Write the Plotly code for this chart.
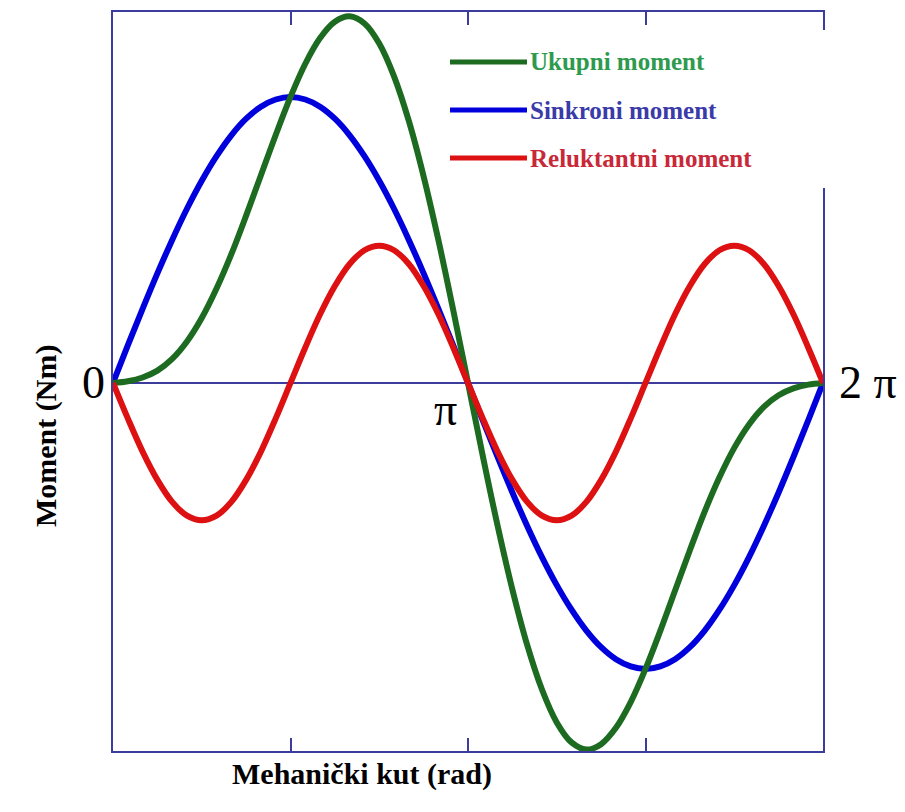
import math
import plotly.graph_objects as go

# mehanički kut, koraci od pi/24
kut = [k * math.pi / 24 for k in range(49)]

# vrijednosti ocitane sa slike (relativno, sinkroni max = 1)
ukupni = [0, 0.006, 0.019, 0.043, 0.084, 0.145, 0.227, 0.330, 0.450, 0.585, 0.726, 0.867, 1.0,
          1.116, 1.206, 1.263, 1.282, 1.257, 1.187, 1.072, 0.916, 0.722, 0.499, 0.255, 0,
          -0.255, -0.499, -0.722, -0.916, -1.072, -1.187, -1.257, -1.282, -1.263, -1.206, -1.116,
          -1.0, -0.867, -0.726, -0.585, -0.450, -0.330, -0.227, -0.145, -0.084, -0.043, -0.019,
          -0.006, 0]
sinkroni = [0, 0.131, 0.259, 0.383, 0.500, 0.609, 0.707, 0.793, 0.866, 0.924, 0.966, 0.991, 1.0,
            0.991, 0.966, 0.924, 0.866, 0.793, 0.707, 0.609, 0.500, 0.383, 0.259, 0.131, 0,
            -0.131, -0.259, -0.383, -0.500, -0.609, -0.707, -0.793, -0.866, -0.924, -0.966, -0.991,
            -1.0, -0.991, -0.966, -0.924, -0.866, -0.793, -0.707, -0.609, -0.500, -0.383, -0.259,
            -0.131, 0]
reluktantni = [0, -0.124, -0.240, -0.339, -0.416, -0.464, -0.480, -0.464, -0.416, -0.339, -0.240,
               -0.124, 0, 0.124, 0.240, 0.339, 0.416, 0.464, 0.480, 0.464, 0.416, 0.339, 0.240,
               0.124, 0, -0.124, -0.240, -0.339, -0.416, -0.464, -0.480, -0.464, -0.416, -0.339,
               -0.240, -0.124, 0, 0.124, 0.240, 0.339, 0.416, 0.464, 0.480, 0.464, 0.416, 0.339,
               0.240, 0.124, 0]

nazivi = ['Ukupni moment', 'Sinkroni moment', 'Reluktantni moment']
boje_linija = ['#1c6b20', '#0000dd', '#dd1111']
boje_teksta = ['#2e9a4e', '#3a3aa8', '#c82838']

W, H = 905, 812
L, R, T, B = 113, 82, 12, 61
okvir = '#3c3c9c'


def px(x):
    return (x - L) / (W - L - R)


def py(y):
    return (H - B - y) / (H - T - B)


fig = go.Figure()
fig.add_trace(go.Scatter(x=kut, y=sinkroni, mode='lines', name=nazivi[1],
                         line=dict(color=boje_linija[1], width=6, shape='spline')))
fig.add_trace(go.Scatter(x=kut, y=ukupni, mode='lines', name=nazivi[0],
                         line=dict(color=boje_linija[0], width=6, shape='spline')))
fig.add_trace(go.Scatter(x=kut, y=reluktantni, mode='lines', name=nazivi[2],
                         line=dict(color=boje_linija[2], width=6, shape='spline')))

# legenda rucno (bijela podloga prekriva desni rub okvira)
shapes = [dict(type='rect', xref='paper', yref='paper', layer='above',
               x0=px(440), x1=px(832), y0=py(188), y1=py(30),
               fillcolor='white', line=dict(width=0))]
annotations = []
for i, ime in enumerate(nazivi):
    yy = 62 + i * 48
    shapes.append(dict(type='line', xref='paper', yref='paper', layer='above',
                       x0=px(450), x1=px(527), y0=py(yy), y1=py(yy),
                       line=dict(color=boje_linija[i], width=5)))
    annotations.append(dict(text=ime, xref='paper', yref='paper', x=px(528), y=py(yy),
                            xanchor='left', yanchor='middle', showarrow=False,
                            font=dict(family='Liberation Serif', size=25, color=boje_teksta[i],
                                      weight='bold')))

oznaka = dict(family='Liberation Serif', size=46, color='black')
naslov = dict(family='Liberation Serif', size=30, color='black', weight='bold')
annotations += [
    dict(text='0', x=0, y=0, xanchor='right', yanchor='middle', xshift=-6,
         showarrow=False, font=oznaka),
    dict(text='π', x=math.pi, y=0, xanchor='right', yanchor='top', xshift=-9, yshift=1,
         showarrow=False, font=oznaka),
    dict(text='2 π', x=2 * math.pi, y=0, xanchor='left', yanchor='middle', xshift=14,
         showarrow=False, font=oznaka),
    dict(text='Moment (Nm)', xref='paper', yref='paper', x=px(27), y=py(436),
         textangle=-90, showarrow=False, font=naslov),
    dict(text='Mehanički kut (rad)', xref='paper', yref='paper', x=px(362), y=py(793),
         showarrow=False, font=naslov),
]

fig.update_layout(
    width=W, height=H,
    margin=dict(l=L, r=R, t=T, b=B, autoexpand=False),
    plot_bgcolor='white', paper_bgcolor='white',
    showlegend=False,
    shapes=shapes, annotations=annotations,
    xaxis=dict(range=[0, 2 * math.pi], showline=True, mirror='ticks', linecolor=okvir,
               linewidth=2, ticks='inside', ticklen=13, tickcolor=okvir, tickwidth=2,
               tickvals=[math.pi / 2, math.pi, 3 * math.pi / 2], showticklabels=False,
               showgrid=False, zeroline=False),
    yaxis=dict(range=[-1.287, 1.297], showline=True, mirror=True, linecolor=okvir,
               linewidth=2, ticks='', showticklabels=False, showgrid=False,
               zeroline=True, zerolinecolor=okvir, zerolinewidth=2),
)

# bez margine stranice, da slika pocne u kutu prozora
fig.write_html('out.html', config={'displayModeBar': False},
               post_script="document.body.style.margin='0';"
               "document.body.style.overflow='hidden';")
